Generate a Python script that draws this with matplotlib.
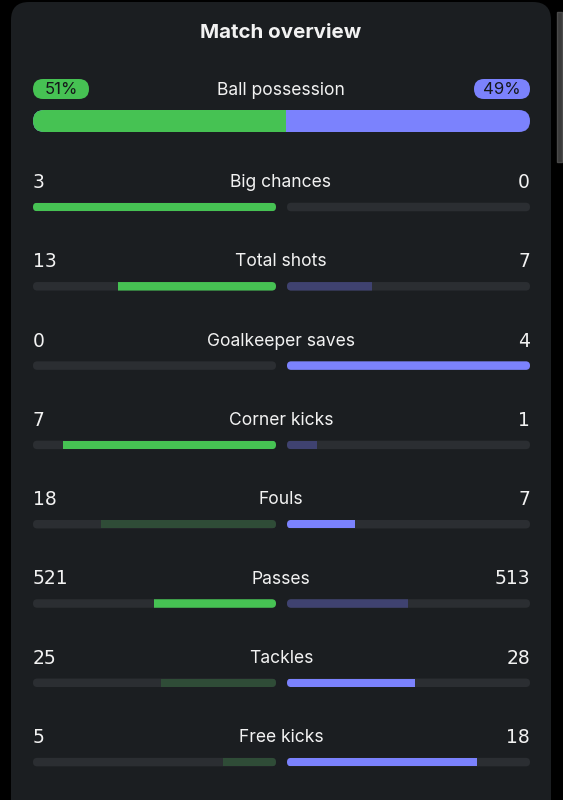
import matplotlib
matplotlib.use("Agg")
import matplotlib.pyplot as plt
from matplotlib.patches import FancyBboxPatch, Rectangle

# match stats
stat_names = ["Big chances", "Total shots", "Goalkeeper saves", "Corner kicks",
              "Fouls", "Passes", "Tackles", "Free kicks"]
home_vals = [3, 13, 0, 7, 18, 521, 25, 5]
away_vals = [0, 7, 4, 1, 7, 513, 28, 18]
# which side is highlighted (bright colour) for each stat
home_leads = [True, True, False, True, False, True, False, False]

possession_home = 51
possession_away = 49

# colours
BG_OUT = "#000000"
CARD = "#1b1e21"
TRACK = "#2b2e32"
GREEN = "#46c253"
PURPLE = "#7b82fd"
GREEN_DIM = "#2f4c37"
PURPLE_DIM = "#3f4270"
TEXT = "#f2f2f2"

plt.rcParams["font.family"] = ["Inter", "DejaVu Sans"]
NUM_FONT = ["DejaVu Sans"]

W, H = 563, 800
fig = plt.figure(figsize=(W / 100, H / 100), dpi=100, facecolor=BG_OUT)
ax = fig.add_axes([0, 0, 1, 1])
ax.set_xlim(0, W)
ax.set_ylim(H, 0)
ax.axis("off")

# card + scrollbar
ax.add_patch(FancyBboxPatch((11, 2), 540, 900, boxstyle="round,pad=0,rounding_size=18",
                            fc=CARD, ec="none"))
ax.add_patch(Rectangle((557, 12), 5, 150, fc="#3a3a3a", ec="#4a4a4a", lw=1))

ax.text(281, 33.5, "Match overview", color=TEXT, fontsize=14.8, fontweight="bold",
        ha="center", va="center")

x0, x1 = 33, 530

# ball possession
ax.text(281, 90.5, "Ball possession", color=TEXT, fontsize=12.6, ha="center", va="center")
for cx, txt, col in [(61, f"{possession_home}%", GREEN), (502, f"{possession_away}%", PURPLE)]:
    ax.add_patch(FancyBboxPatch((cx - 28, 79), 56, 20, boxstyle="round,pad=0,rounding_size=10",
                                fc=col, ec="none"))
    ax.text(cx, 90, txt, color="#15181a", fontsize=12, ha="center", va="center")

track = FancyBboxPatch((x0, 110), x1 - x0, 22, boxstyle="round,pad=0,rounding_size=11",
                       fc=PURPLE, ec="none")
ax.add_patch(track)
split = x0 + (x1 - x0) * possession_home / (possession_home + possession_away)
g = Rectangle((x0, 110), split - x0, 22, fc=GREEN, ec="none")
ax.add_patch(g)
g.set_clip_path(track)

# stat rows
row0, step = 182.5, 79.3
lx0, lx1 = 33, 276
rx0, rx1 = 287, 530
bh = 8.5
for i, name in enumerate(stat_names):
    ty = row0 + i * step
    by = ty + 24.5
    h, a = home_vals[i], away_vals[i]
    ax.text(281, ty, name, color=TEXT, fontsize=12.6, ha="center", va="center")
    ax.text(lx0, ty, str(h), color=TEXT, fontsize=13.5, ha="left", va="center",
            family=NUM_FONT)
    ax.text(rx1, ty, str(a), color=TEXT, fontsize=13.5, ha="right", va="center",
            family=NUM_FONT)

    total = h + a
    hf = h / total if total else 0
    af = a / total if total else 0
    hcol = GREEN if home_leads[i] else GREEN_DIM
    acol = PURPLE_DIM if home_leads[i] else PURPLE

    lt = FancyBboxPatch((lx0, by - bh / 2), lx1 - lx0, bh,
                        boxstyle="round,pad=0,rounding_size=4.2", fc=TRACK, ec="none")
    ax.add_patch(lt)
    lf = Rectangle((lx1 - (lx1 - lx0) * hf, by - bh / 2), (lx1 - lx0) * hf, bh, fc=hcol, ec="none")
    ax.add_patch(lf)
    lf.set_clip_path(lt)

    rt = FancyBboxPatch((rx0, by - bh / 2), rx1 - rx0, bh,
                        boxstyle="round,pad=0,rounding_size=4.2", fc=TRACK, ec="none")
    ax.add_patch(rt)
    rf = Rectangle((rx0, by - bh / 2), (rx1 - rx0) * af, bh, fc=acol, ec="none")
    ax.add_patch(rf)
    rf.set_clip_path(rt)

fig.savefig("out.png", dpi=100, facecolor=BG_OUT)
